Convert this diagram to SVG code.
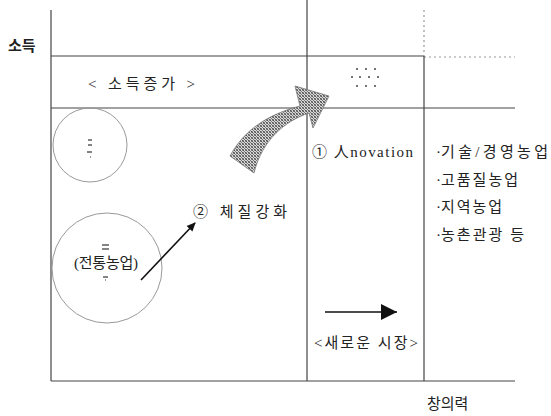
<svg xmlns="http://www.w3.org/2000/svg" width="551" height="416" viewBox="0 0 551 416">
<style>
.ax{stroke:#444;stroke-width:1.2;fill:none}
.dot{stroke:#999;stroke-width:1.2;stroke-dasharray:2 3;fill:none}
.cir{stroke:#999;stroke-width:1;fill:none}
.t{font-family:"Liberation Serif","Noto Sans CJK KR",serif;font-size:15px;fill:#222}
</style>
<defs>
<pattern id="hatch" width="3" height="3" patternUnits="userSpaceOnUse">
<rect width="3" height="3" fill="#d8d8d8"/>
<rect width="1" height="1" fill="#555"/>
<rect x="1" y="1" width="1" height="1" fill="#777"/>
<rect x="2" y="2" width="1" height="1" fill="#555"/>
<rect x="2" y="0" width="1" height="1" fill="#888"/>
<rect x="0" y="2" width="1" height="1" fill="#888"/>
</pattern>
<marker id="ah" markerWidth="10" markerHeight="10" refX="8" refY="5" orient="auto" markerUnits="userSpaceOnUse">
<path d="M0,1 L9,5 L0,9 Z" fill="#111"/>
</marker>
<marker id="ah2" markerWidth="18" markerHeight="16" refX="16" refY="8" orient="auto" markerUnits="userSpaceOnUse">
<path d="M0,0 L16,8 L0,16 Z" fill="#111"/>
</marker>
</defs>
<g id="grid">
<line class="ax" x1="51" y1="10" x2="51" y2="381"/>
<line class="ax" x1="51" y1="56" x2="424" y2="56"/>
<line class="dot" x1="424" y1="57" x2="515" y2="57"/>
<line class="ax" x1="51" y1="108" x2="515" y2="108"/>
<line class="ax" x1="307" y1="0" x2="307" y2="381"/>
<line class="dot" x1="424" y1="10" x2="424" y2="56"/>
<line class="ax" x1="424" y1="56" x2="424" y2="381"/>
<line class="ax" x1="51" y1="381" x2="515" y2="381"/>
</g>
<g id="axis-labels">
<text class="t" x="8" y="51" font-weight="bold">소득</text>
<text class="t" x="427" y="409">창의력</text>
</g>
<g id="income-increase">
<text class="t" x="88" y="89" font-size="16" textLength="107" lengthAdjust="spacing">&lt; 소득증가 &gt;</text>
<g fill="#333">
<circle cx="357" cy="69" r="0.9"/><circle cx="366" cy="69" r="0.9"/><circle cx="375" cy="69" r="0.9"/>
<circle cx="352" cy="77" r="0.9"/><circle cx="360" cy="77" r="0.9"/><circle cx="369" cy="77" r="0.9"/><circle cx="378" cy="77" r="0.9"/>
<circle cx="357" cy="86" r="0.9"/><circle cx="366" cy="86" r="0.9"/><circle cx="375" cy="86" r="0.9"/>
</g>
</g>
<g id="small-circle">
<circle class="cir" cx="90" cy="145" r="37"/>
<g stroke="#333" stroke-width="1.2">
<line x1="88" y1="140" x2="92" y2="140"/>
<line x1="88" y1="145" x2="92" y2="145"/>
<line x1="87" y1="152" x2="92" y2="152"/>
<line x1="90" y1="157" x2="91" y2="157"/>
</g>
</g>
<g id="traditional">
<circle class="cir" cx="107" cy="268" r="55"/>
<g stroke="#333" stroke-width="1.2">
<line x1="102" y1="245" x2="109" y2="245"/>
<line x1="102" y1="249" x2="109" y2="249"/>
<line x1="103" y1="277" x2="108" y2="277"/>
<line x1="105" y1="280" x2="106" y2="280"/>
</g>
<text class="t" x="106" y="268" text-anchor="middle" font-size="13" textLength="64" lengthAdjust="spacing">(전통농업)</text>
</g>
<g id="connectors">
<line x1="141" y1="280" x2="195" y2="223" stroke="#111" stroke-width="1.6" marker-end="url(#ah)"/>
<line x1="325" y1="312" x2="397" y2="312" stroke="#111" stroke-width="1.6" marker-end="url(#ah2)"/>
<path d="M230,156 C242,134 262,116 300,106 L295,86 L329,96 L313,128 L309,113 C285,121 262,140 254,173 Z" fill="url(#hatch)" stroke="#777" stroke-width="0.8"/>
</g>
<g id="step2">
<text class="t" x="193" y="217" font-size="16" textLength="94" lengthAdjust="spacing">② 체질강화</text>
</g>
<g id="step1">
<text class="t" x="312" y="157" font-size="16" textLength="101" lengthAdjust="spacing">① 人novation</text>
</g>
<g id="list">
<text class="t" y="157"><tspan x="436">·</tspan><tspan x="441" textLength="107" lengthAdjust="spacing">기술/경영농업</tspan></text>
<text class="t" y="185"><tspan x="436">·</tspan><tspan x="441" textLength="77" lengthAdjust="spacing">고품질농업</tspan></text>
<text class="t" y="212"><tspan x="436">·</tspan><tspan x="441" textLength="61" lengthAdjust="spacing">지역농업</tspan></text>
<text class="t" y="240"><tspan x="436">·</tspan><tspan x="441" textLength="83" lengthAdjust="spacing">농촌관광 등</tspan></text>
</g>
<g id="new-market">
<text class="t" x="314" y="348" textLength="104" lengthAdjust="spacing">&lt;새로운 시장&gt;</text>
</g>
</svg>
